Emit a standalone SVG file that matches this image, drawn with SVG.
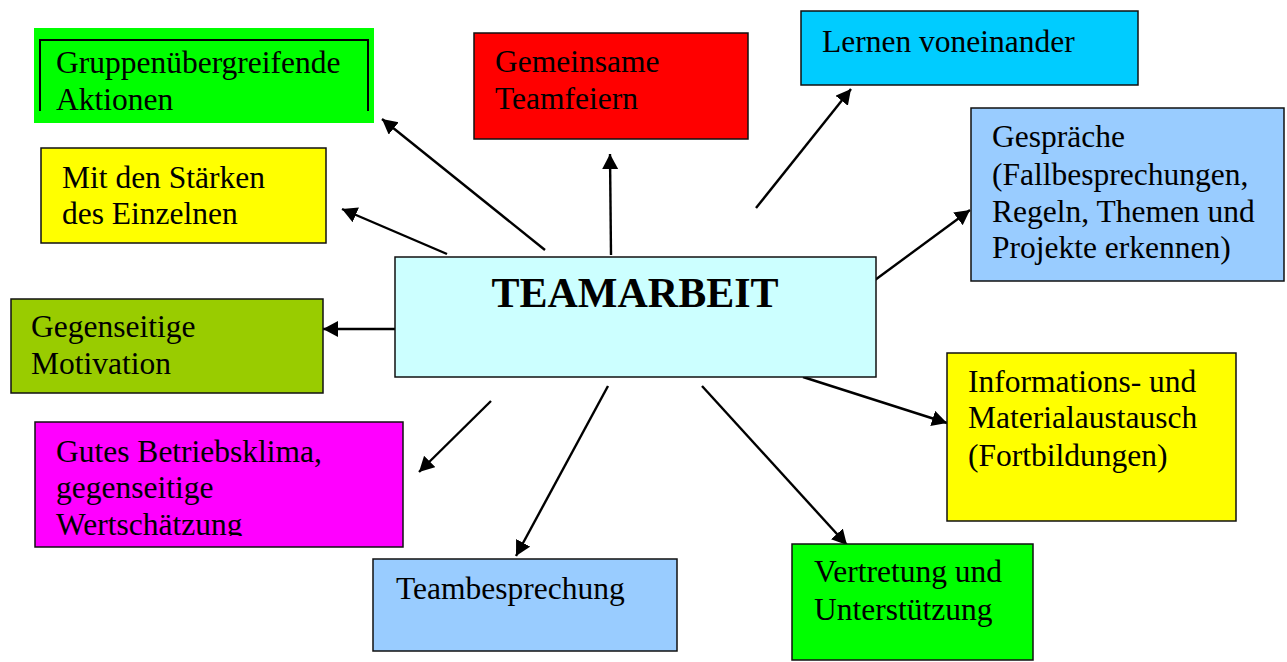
<svg xmlns="http://www.w3.org/2000/svg" width="1287" height="662" viewBox="0 0 1287 662">
<style>
.box{stroke:#111;stroke-width:1.5}
.t{font-family:"Liberation Serif","Times New Roman",serif;font-size:31.5px;fill:#000}
.c{stroke:#000;stroke-width:2.4;fill:none;marker-end:url(#ah)}
</style>
<defs>
<marker id="ah" markerUnits="userSpaceOnUse" markerWidth="17" markerHeight="17" refX="15" refY="8" orient="auto">
<path d="M0,0 L15,8 L0,16 z" fill="#000"/>
</marker>
<clipPath id="clipG"><rect x="35" y="422" width="368" height="114"/></clipPath>
</defs>
<rect width="1287" height="662" fill="#fff"/>
<g id="connectors">
<line class="c" x1="545" y1="250" x2="382" y2="119"/>
<line class="c" x1="447" y1="254" x2="342" y2="209"/>
<line class="c" x1="611" y1="255" x2="610" y2="154"/>
<line class="c" x1="756" y1="208" x2="851" y2="89"/>
<line class="c" x1="875" y1="280" x2="970" y2="210"/>
<line class="c" x1="395" y1="329" x2="323" y2="329"/>
<line class="c" x1="803" y1="377" x2="947" y2="423"/>
<line class="c" x1="702" y1="386" x2="847" y2="545"/>
<line class="c" x1="608" y1="386" x2="516" y2="556"/>
<line class="c" x1="491" y1="401" x2="419" y2="472"/>
</g>
<g id="teamarbeit">
<rect class="box" x="395" y="257" width="481" height="120" fill="#ccffff"/>
<text x="635" y="307" text-anchor="middle" style="font-family:'Liberation Serif','Times New Roman',serif;font-size:42px;font-weight:bold">TEAMARBEIT</text>
</g>
<g id="gruppen">
<rect x="34" y="28" width="340" height="95" fill="#00ff00"/>
<path d="M40,111 V40 H368 V111" fill="none" stroke="#000" stroke-width="2"/>
<text class="t" x="56" y="73">Gruppenübergreifende</text>
<text class="t" x="56" y="110">Aktionen</text>
</g>
<g id="staerken">
<rect class="box" x="41" y="148" width="285" height="95" fill="#ffff00"/>
<text class="t" x="62" y="188">Mit den Stärken</text>
<text class="t" x="62" y="224">des Einzelnen</text>
</g>
<g id="teamfeiern">
<rect class="box" x="474" y="33" width="274" height="106" fill="#ff0000"/>
<text class="t" x="495" y="72">Gemeinsame</text>
<text class="t" x="495" y="109">Teamfeiern</text>
</g>
<g id="lernen">
<rect class="box" x="801" y="11" width="337" height="74" fill="#00ccff"/>
<text class="t" x="822" y="52">Lernen voneinander</text>
</g>
<g id="gespraeche">
<rect class="box" x="971" y="108" width="313" height="173" fill="#99ccff"/>
<text class="t" x="992" y="147">Gespräche</text>
<text class="t" x="992" y="185">(Fallbesprechungen,</text>
<text class="t" x="992" y="222">Regeln, Themen und</text>
<text class="t" x="992" y="258">Projekte erkennen)</text>
</g>
<g id="motivation">
<rect class="box" x="11" y="299" width="312" height="94" fill="#99cc00"/>
<text class="t" x="31" y="337">Gegenseitige</text>
<text class="t" x="31" y="374">Motivation</text>
</g>
<g id="informationen">
<rect class="box" x="947" y="353" width="289" height="168" fill="#ffff00"/>
<text class="t" x="968" y="392">Informations- und</text>
<text class="t" x="968" y="428">Materialaustausch</text>
<text class="t" x="968" y="466">(Fortbildungen)</text>
</g>
<g id="betriebsklima">
<rect class="box" x="35" y="422" width="368" height="125" fill="#ff00ff"/>
<g clip-path="url(#clipG)">
<text class="t" x="56" y="462">Gutes Betriebsklima,</text>
<text class="t" x="56" y="498">gegenseitige</text>
<text class="t" x="56" y="535">Wertschätzung</text>
</g>
</g>
<g id="teambesprechung">
<rect class="box" x="373" y="559" width="304" height="92" fill="#99ccff"/>
<text class="t" x="396" y="599">Teambesprechung</text>
</g>
<g id="vertretung">
<rect class="box" x="792" y="544" width="241" height="116" fill="#00ff00"/>
<text class="t" x="814" y="582">Vertretung und</text>
<text class="t" x="814" y="620">Unterstützung</text>
</g>
</svg>
